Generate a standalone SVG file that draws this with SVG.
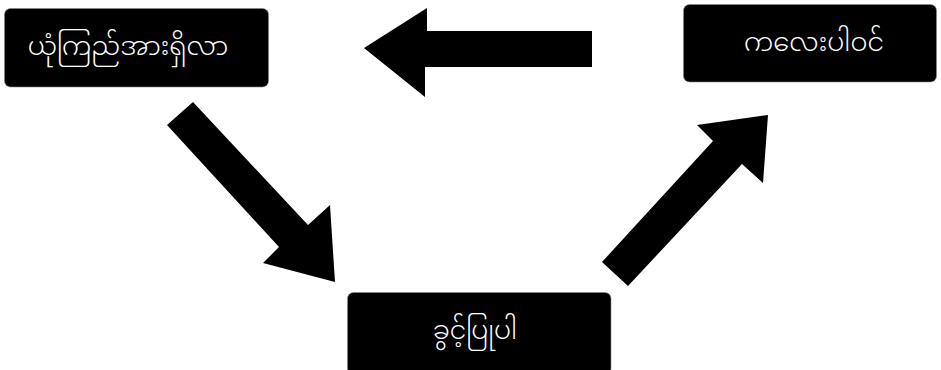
<svg xmlns="http://www.w3.org/2000/svg" width="941" height="370" viewBox="0 0 941 370">
<style>
.box{fill:#000;stroke:#888;stroke-width:0.6}
.lbl{fill:#fff;font-family:"Noto Sans Myanmar","Padauk","Myanmar Text","Noto Sans",sans-serif;font-size:26px;font-weight:300;text-anchor:middle;dominant-baseline:central}
.arr{fill:#000}
</style>
<rect width="941" height="370" fill="#fff"/>
<g id="node-yone-kyi">
<rect class="box" x="4.5" y="8.5" width="264" height="78.5" rx="6"/>
<text class="lbl" x="128" y="49">ယုံကြည်အားရှိလာ</text>
</g>
<g id="node-kalay">
<rect class="box" x="683.5" y="4.5" width="253" height="77.5" rx="6"/>
<text class="lbl" x="814" y="45">ကလေးပါဝင်</text>
</g>
<g id="node-khwin">
<rect class="box" x="347.5" y="292.5" width="263.5" height="82" rx="6"/>
<text class="lbl" x="475" y="333">ခွင့်ပြုပါ</text>
</g>
<g id="connectors">
<polygon class="arr" points="592,31 427,31 427,8 364,48 425,97 425,67 592,67"/>
<polygon class="arr" points="193,102 167,125 279,247 263,263 335,282 330,205 308,225"/>
<polygon class="arr" points="602,262 628,286 742,164 763,183 768,115 697,125 713,141"/>
</g>
</svg>
